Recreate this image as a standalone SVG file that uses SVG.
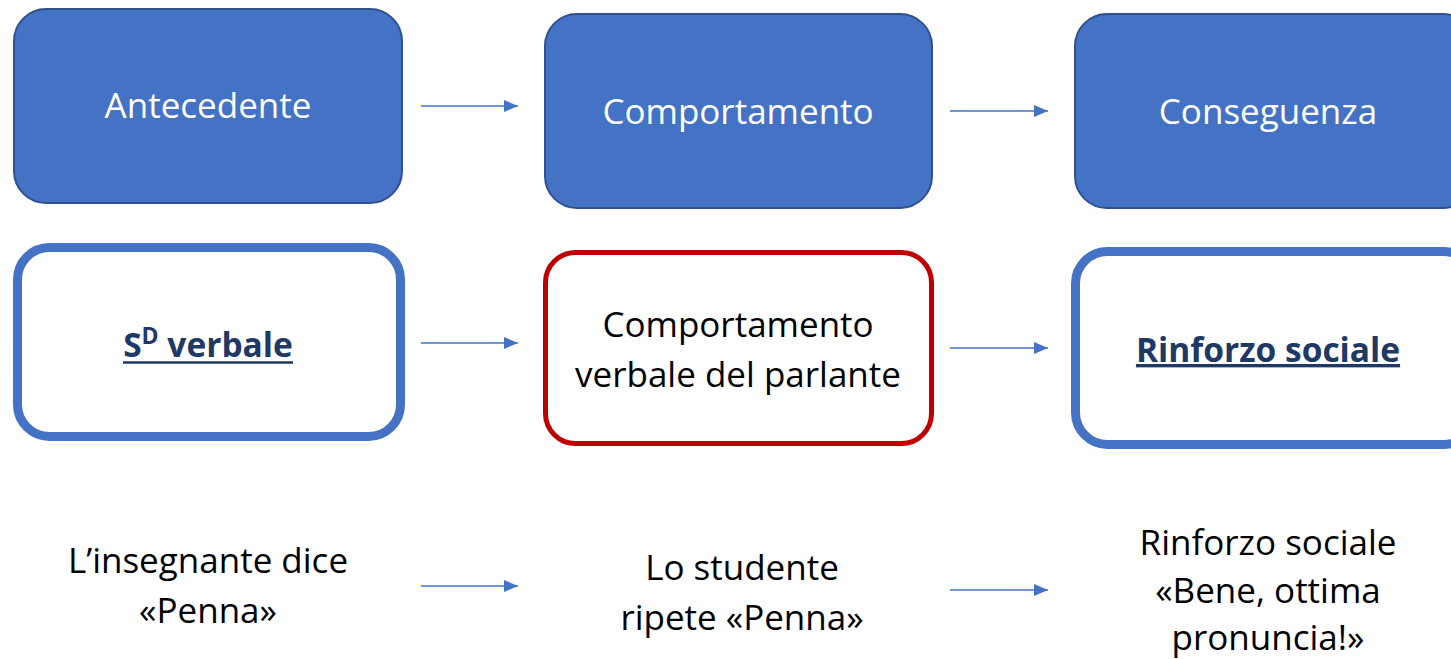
<svg xmlns="http://www.w3.org/2000/svg" width="1451" height="659" viewBox="0 0 1451 659">
<style>
.t{font-family:"Open Sans","Noto Sans","Liberation Sans",sans-serif;font-size:35px;text-anchor:middle}
.w{fill:#FFFFFF}
.k{fill:#000000}
.b{font-weight:bold;fill:#203864;font-size:33.5px}
.u{text-decoration:underline}
.ul{stroke:#203864;stroke-width:2.4}
.top{fill:#4472C4;stroke:#2F528F;stroke-width:2}
.mid{fill:#FFFFFF;stroke:#4472C4;stroke-width:9}
.red{fill:#FFFFFF;stroke:#C00000;stroke-width:5}
.arr{stroke:#4472C4;stroke-width:1.6;fill:none;marker-end:url(#ah)}
</style>
<defs>
<marker id="ah" markerUnits="userSpaceOnUse" markerWidth="14" markerHeight="12" refX="14" refY="6" orient="auto">
<path d="M0,0 L14,6 L0,12 Z" fill="#4472C4"/>
</marker>
</defs>
<rect width="1451" height="659" fill="#FFFFFF"/>
<g id="antecedente"><rect class="top" x="14" y="9" width="388" height="194" rx="32"/><text class="t w" x="208" y="118">Antecedente</text></g>
<g id="comportamento"><rect class="top" x="545" y="14" width="387" height="194" rx="32"/><text class="t w" x="738" y="124">Comportamento</text></g>
<g id="conseguenza"><rect class="top" x="1075" y="14" width="400" height="194" rx="32"/><text class="t w" x="1268" y="124">Conseguenza</text></g>
<g id="sd-verbale"><rect class="mid" x="17.5" y="247.5" width="383" height="189" rx="32"/><text class="t b" x="208" y="357">S<tspan font-size="23" baseline-shift="13">D</tspan> verbale</text><line class="ul" x1="123" y1="362.5" x2="293" y2="362.5"/></g>
<g id="comportamento-verbale"><rect class="red" x="545.5" y="252.5" width="386" height="191" rx="30"/><text class="t k" x="738" y="337">Comportamento</text><text class="t k" x="738" y="387">verbale del parlante</text></g>
<g id="rinforzo-sociale"><rect class="mid" x="1075.5" y="251.5" width="400" height="193" rx="32"/><text class="t b u" x="1268" y="362">Rinforzo sociale</text></g>
<g id="esempio-antecedente"><text class="t k" x="208" y="573">L’insegnante dice</text><text class="t k" x="208" y="623">«Penna»</text></g>
<g id="esempio-comportamento"><text class="t k" x="742" y="580">Lo studente</text><text class="t k" x="742" y="630">ripete «Penna»</text></g>
<g id="esempio-conseguenza"><text class="t k" x="1268" y="555">Rinforzo sociale</text><text class="t k" x="1268" y="603">«Bene, ottima</text><text class="t k" x="1268" y="650">pronuncia!»</text></g>
<g id="connectors">
<line class="arr" x1="421" y1="106" x2="518" y2="106"/>
<line class="arr" x1="950" y1="111" x2="1048" y2="111"/>
<line class="arr" x1="421" y1="343" x2="518" y2="343"/>
<line class="arr" x1="950" y1="348" x2="1048" y2="348"/>
<line class="arr" x1="421" y1="586" x2="518" y2="586"/>
<line class="arr" x1="950" y1="590" x2="1048" y2="590"/>
</g>
</svg>
